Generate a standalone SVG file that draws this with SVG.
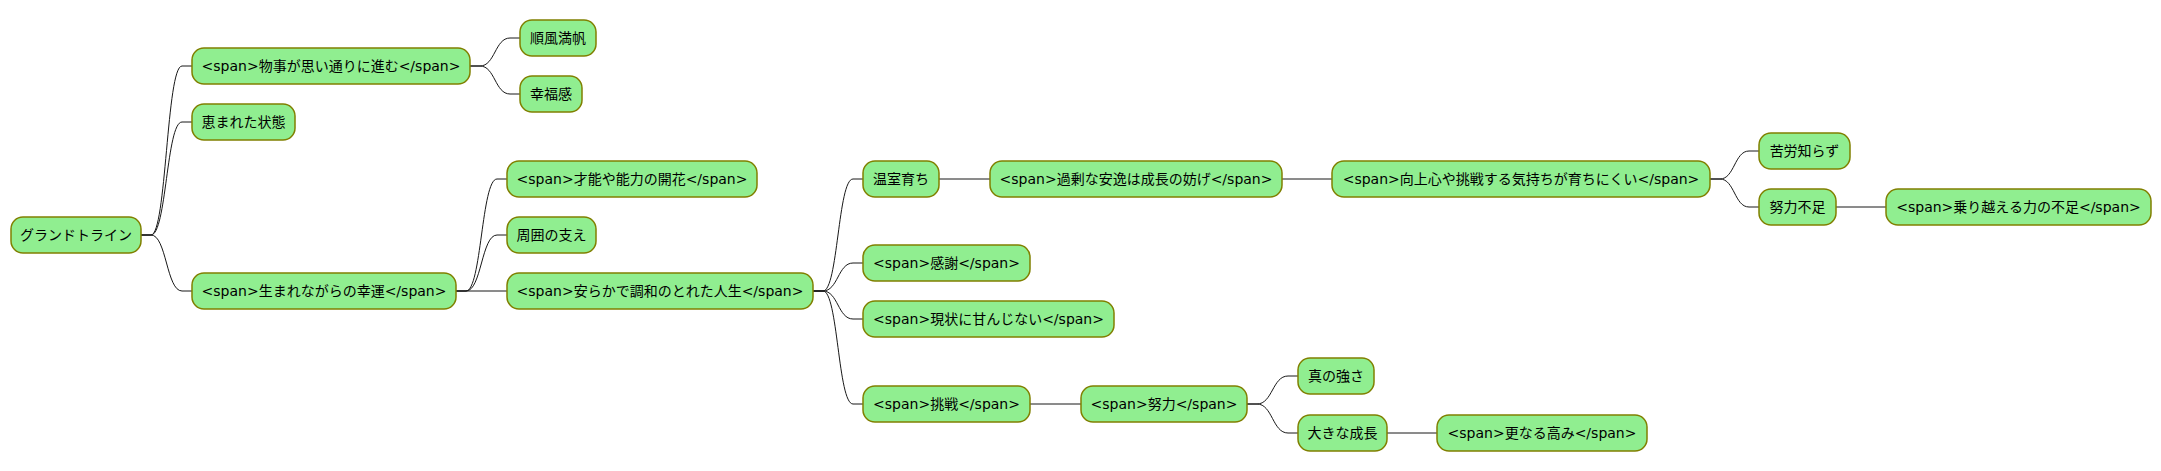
<svg xmlns="http://www.w3.org/2000/svg" width="2161" height="471" viewBox="0 0 2161 471">
<style>
.n rect{fill:#90EE90;stroke:#808000;stroke-width:1.5}
.n text{font-family:"DejaVu Sans","Noto Sans CJK JP",sans-serif;font-size:14px;fill:#000;text-anchor:middle;dominant-baseline:central}
#edges path{fill:none;stroke:#181818;stroke-width:1}
</style>
<rect width="2161" height="471" fill="#fff"/>
<g id="edges">
<path d="M141,235 H151 C166.5,235 166.5,66 182,66 H192"/>
<path d="M141,235 H151 C166.5,235 166.5,122 182,122 H192"/>
<path d="M141,235 H151 C166.5,235 166.5,291 182,291 H192"/>
<path d="M470,66 H480 C495,66 495,38 510,38 H520"/>
<path d="M470,66 H480 C495,66 495,94 510,94 H520"/>
<path d="M456,291 H466 C481.5,291 481.5,179 497,179 H507"/>
<path d="M456,291 H466 C481.5,291 481.5,235 497,235 H507"/>
<path d="M456,291 H507"/>
<path d="M813,291 H823 C838,291 838,179 853,179 H863"/>
<path d="M813,291 H823 C838,291 838,263 853,263 H863"/>
<path d="M813,291 H823 C838,291 838,319 853,319 H863"/>
<path d="M813,291 H823 C838,291 838,404 853,404 H863"/>
<path d="M939,179 H990"/>
<path d="M1282,179 H1332"/>
<path d="M1710,179 H1720 C1734.5,179 1734.5,151 1749,151 H1759"/>
<path d="M1710,179 H1720 C1734.5,179 1734.5,207 1749,207 H1759"/>
<path d="M1836,207 H1886"/>
<path d="M1030,404 H1081"/>
<path d="M1247,404 H1257 C1272.5,404 1272.5,376 1288,376 H1298"/>
<path d="M1247,404 H1257 C1272.5,404 1272.5,433 1288,433 H1298"/>
<path d="M1387,433 H1437"/>
</g>
<g id="root" class="n"><rect x="11" y="217" width="130" height="36" rx="12"/><text x="76" y="235">グランドトライン</text></g>
<g id="n1" class="n"><rect x="192" y="48" width="278" height="36" rx="12"/><text x="331" y="66">&lt;span&gt;物事が思い通りに進む&lt;/span&gt;</text></g>
<g id="n2" class="n"><rect x="192" y="104" width="103" height="36" rx="12"/><text x="243.5" y="122">恵まれた状態</text></g>
<g id="n3" class="n"><rect x="192" y="273" width="264" height="36" rx="12"/><text x="324" y="291">&lt;span&gt;生まれながらの幸運&lt;/span&gt;</text></g>
<g id="n1a" class="n"><rect x="520" y="20" width="76" height="36" rx="12"/><text x="558" y="38">順風満帆</text></g>
<g id="n1b" class="n"><rect x="520" y="76" width="62" height="36" rx="12"/><text x="551" y="94">幸福感</text></g>
<g id="n3a" class="n"><rect x="507" y="161" width="250" height="36" rx="12"/><text x="632" y="179">&lt;span&gt;才能や能力の開花&lt;/span&gt;</text></g>
<g id="n3b" class="n"><rect x="507" y="217" width="89" height="36" rx="12"/><text x="551.5" y="235">周囲の支え</text></g>
<g id="n3c" class="n"><rect x="507" y="273" width="306" height="36" rx="12"/><text x="660" y="291">&lt;span&gt;安らかで調和のとれた人生&lt;/span&gt;</text></g>
<g id="m1" class="n"><rect x="863" y="161" width="76" height="36" rx="12"/><text x="901" y="179">温室育ち</text></g>
<g id="m1a" class="n"><rect x="990" y="161" width="292" height="36" rx="12"/><text x="1136" y="179">&lt;span&gt;過剰な安逸は成長の妨げ&lt;/span&gt;</text></g>
<g id="m1b" class="n"><rect x="1332" y="161" width="378" height="36" rx="12"/><text x="1521" y="179">&lt;span&gt;向上心や挑戦する気持ちが育ちにくい&lt;/span&gt;</text></g>
<g id="m1c" class="n"><rect x="1759" y="133" width="91" height="36" rx="12"/><text x="1804.5" y="151">苦労知らず</text></g>
<g id="m1d" class="n"><rect x="1759" y="189" width="77" height="36" rx="12"/><text x="1797.5" y="207">努力不足</text></g>
<g id="m1e" class="n"><rect x="1886" y="189" width="265" height="36" rx="12"/><text x="2018.5" y="207">&lt;span&gt;乗り越える力の不足&lt;/span&gt;</text></g>
<g id="m2" class="n"><rect x="863" y="245" width="167" height="36" rx="12"/><text x="946.5" y="263">&lt;span&gt;感謝&lt;/span&gt;</text></g>
<g id="m3" class="n"><rect x="863" y="301" width="251" height="36" rx="12"/><text x="988.5" y="319">&lt;span&gt;現状に甘んじない&lt;/span&gt;</text></g>
<g id="m4" class="n"><rect x="863" y="386" width="167" height="36" rx="12"/><text x="946.5" y="404">&lt;span&gt;挑戦&lt;/span&gt;</text></g>
<g id="m4a" class="n"><rect x="1081" y="386" width="166" height="36" rx="12"/><text x="1164" y="404">&lt;span&gt;努力&lt;/span&gt;</text></g>
<g id="m4b" class="n"><rect x="1298" y="358" width="76" height="36" rx="12"/><text x="1336" y="376">真の強さ</text></g>
<g id="m4c" class="n"><rect x="1298" y="415" width="89" height="36" rx="12"/><text x="1342.5" y="433">大きな成長</text></g>
<g id="m4d" class="n"><rect x="1437" y="415" width="210" height="36" rx="12"/><text x="1542" y="433">&lt;span&gt;更なる高み&lt;/span&gt;</text></g>
</svg>
